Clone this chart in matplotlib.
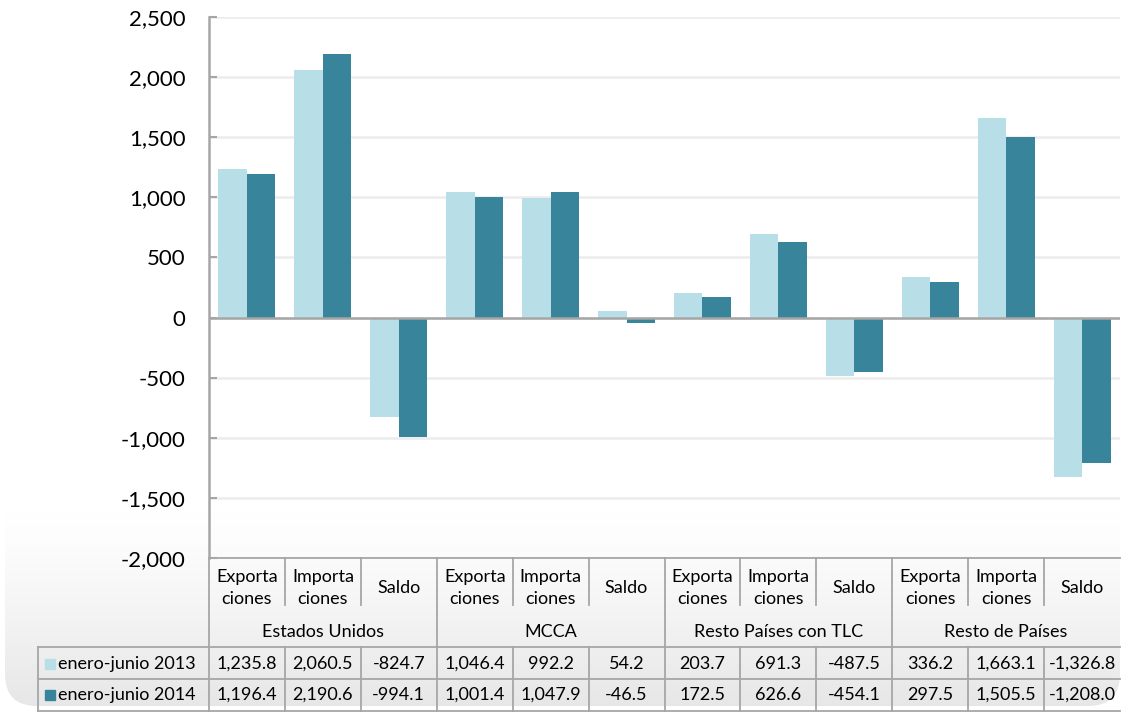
import matplotlib.pyplot as plt
import numpy as np
from matplotlib.patches import FancyBboxPatch, Rectangle
from matplotlib.colors import LinearSegmentedColormap
from matplotlib.transforms import blended_transform_factory

plt.rcParams['font.family'] = ['Lato', 'DejaVu Sans']

groups = ['Estados Unidos', 'MCCA', 'Resto Países con TLC', 'Resto de Países']
subcats = ['Exporta\nciones', 'Importa\nciones', 'Saldo']
series_names = ['enero-junio 2013', 'enero-junio 2014']
vals_2013 = [1235.8, 2060.5, -824.7, 1046.4, 992.2, 54.2, 203.7, 691.3, -487.5, 336.2, 1663.1, -1326.8]
vals_2014 = [1196.4, 2190.6, -994.1, 1001.4, 1047.9, -46.5, 172.5, 626.6, -454.1, 297.5, 1505.5, -1208.0]
yticks = [-2000, -1500, -1000, -500, 0, 500, 1000, 1500, 2000, 2500]

light = '#b8dfe7'
dark = '#38849a'
line_gray = '#a6a6a6'
txt = '#000000'
W, H = 1124, 712

fig = plt.figure(figsize=(W / 100, H / 100), dpi=100)

# background panel with soft gradient and rounded corners (pixel coords)
bg = fig.add_axes([0, 0, 1, 1], zorder=-5)
bg.set_xlim(0, W)
bg.set_ylim(H, 0)
bg.axis('off')
grad = np.linspace(0, 1, 256)
grad = np.clip((grad - 0.72) / 0.28, 0, 1) ** 1.2
grad_img = np.repeat(grad[:, None], 2, axis=1)
panel = FancyBboxPatch((5, -60), 1115, 766, boxstyle='round,pad=0,rounding_size=32',
                       facecolor='none', edgecolor='none', transform=bg.transData)
bg.add_patch(panel)
im = bg.imshow(grad_img, extent=(0, W, H, 0),
               cmap=LinearSegmentedColormap.from_list('g', ['#ffffff', '#e6e6e6']),
               aspect='auto', vmin=0, vmax=1)
im.set_clip_path(panel)

# main bar chart
ax = fig.add_axes([209 / W, 1 - 558 / H, (1120 - 209) / W, (558 - 17) / H])
ax.patch.set_alpha(0)
x = np.arange(len(vals_2013))
bw = 0.375
ax.bar(x - bw / 2, vals_2013, bw, color=light, zorder=3)
ax.bar(x + bw / 2, vals_2014, bw, color=dark, zorder=3)
ax.set_xlim(-0.5, len(x) - 0.5)
ax.set_ylim(-2000, 2500)
ax.set_yticks(yticks)
ax.set_yticklabels([f'{v:,}' for v in yticks], fontsize=16, color=txt)
ax.tick_params(axis='y', direction='in', length=6, width=1.5, color=line_gray, pad=17)
ax.set_xticks([])
ax.grid(axis='y', color='#ececec', linewidth=1.8, zorder=0)
ax.axhline(0, color=line_gray, linewidth=1.8, zorder=4)
for s in ['top', 'right', 'bottom']:
    ax.spines[s].set_visible(False)
ax.spines['left'].set_color(line_gray)
ax.spines['left'].set_linewidth(1.8)

# data table below the axes: x from the bar axis, y in pixels
tr = blended_transform_factory(ax.transData, bg.transData)
n = len(x)
edges = np.arange(n + 1) - 0.5
label_left = -0.5 - (209 - 38) / ((1120 - 209) / n)
lw = 1.3
fs = 13

def hline(y, x0, x1):
    ax.plot([x0, x1], [y, y], color=line_gray, lw=lw, transform=tr, clip_on=False)

def vline(xv, y0, y1):
    ax.plot([xv, xv], [y0, y1], color=line_gray, lw=lw, transform=tr, clip_on=False)

hline(558, edges[0], edges[-1])
hline(647, label_left, edges[-1])
hline(679, label_left, edges[-1])
hline(711, label_left, edges[-1])
vline(label_left, 647, 711)
for i, e in enumerate(edges[:-1]):
    if i % 3 == 0:
        vline(e, 558, 711)
    else:
        vline(e, 558, 605)
        vline(e, 647, 711)

for i in range(n):
    ax.text(x[i], 588, subcats[i % 3], transform=tr, ha='center', va='center',
            fontsize=fs, linespacing=1.4, color=txt)
    ax.text(x[i], 664, f'{vals_2013[i]:,.1f}', transform=tr, ha='center', va='center',
            fontsize=fs, color=txt)
    ax.text(x[i], 695, f'{vals_2014[i]:,.1f}', transform=tr, ha='center', va='center',
            fontsize=fs, color=txt)
for g, name in enumerate(groups):
    ax.text(3 * g + 1, 632, name, transform=tr, ha='center', va='center',
            fontsize=fs, color=txt)

for j, (name, c) in enumerate(zip(series_names, [light, dark])):
    yc = 664 + 31 * j
    ax.add_patch(Rectangle((label_left + 0.09, yc - 5), 0.13, 10, color=c,
                           transform=tr, clip_on=False))
    ax.text(label_left + 0.26, yc, name, transform=tr, ha='left', va='center',
            fontsize=fs, color=txt)

fig.savefig('out.png', dpi=100)
